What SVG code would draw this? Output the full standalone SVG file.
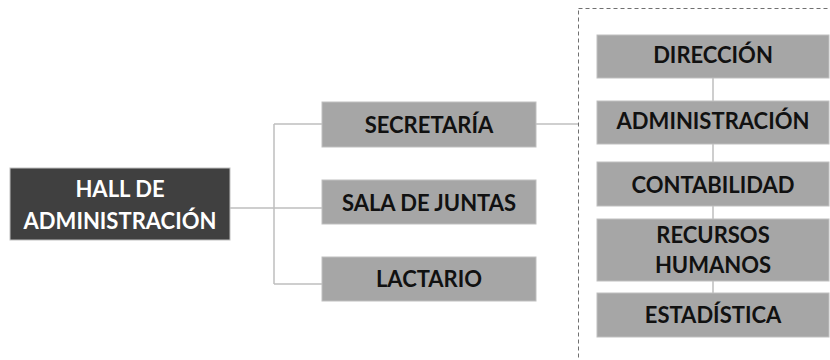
<svg xmlns="http://www.w3.org/2000/svg" width="830" height="360" viewBox="0 0 830 360">
<style>
.box{fill:#a6a6a6;stroke:#bfbfbf;stroke-width:1}
.dark{fill:#404040;stroke:#bfbfbf;stroke-width:1}
.t{font-family:Lato,"Liberation Sans",sans-serif;font-weight:bold;font-size:22px;fill:#111111;text-anchor:middle}
.w{fill:#ffffff}
.ln{stroke:#bfbfbf;stroke-width:1.5;fill:none}
.dash{stroke:#707070;stroke-width:1;fill:none;stroke-dasharray:4 3}
</style>
<rect width="830" height="360" fill="#ffffff"/>
<rect class="dash" x="578.5" y="8.5" width="270" height="370"/>
<g id="connectors">
<path class="ln" d="M230 208H322M274 124V284M274 124H322M274 284H322"/>
<path class="ln" d="M536 124H578"/>
<path class="ln" d="M713 78V101M713 144V162M713 206V219M713 281V293"/>
</g>
<g id="hall">
<rect class="dark" x="10" y="168" width="220" height="72"/>
<text class="t w" x="120" y="197">HALL DE</text>
<text class="t w" x="120" y="229">ADMINISTRACIÓN</text>
</g>
<g id="secretaria">
<rect class="box" x="322" y="102" width="214" height="45"/>
<text class="t" x="429" y="133">SECRETARÍA</text>
</g>
<g id="sala">
<rect class="box" x="322" y="180" width="214" height="44"/>
<text class="t" x="429" y="211">SALA DE JUNTAS</text>
</g>
<g id="lactario">
<rect class="box" x="322" y="257" width="214" height="44"/>
<text class="t" x="429" y="287">LACTARIO</text>
</g>
<g id="direccion">
<rect class="box" x="597" y="35" width="232" height="43"/>
<text class="t" x="713" y="63">DIRECCIÓN</text>
</g>
<g id="administracion">
<rect class="box" x="597" y="101" width="232" height="43"/>
<text class="t" x="713" y="129">ADMINISTRACIÓN</text>
</g>
<g id="contabilidad">
<rect class="box" x="597" y="162" width="232" height="44"/>
<text class="t" x="713" y="193">CONTABILIDAD</text>
</g>
<g id="recursos">
<rect class="box" x="597" y="219" width="232" height="62"/>
<text class="t" x="713" y="243">RECURSOS</text>
<text class="t" x="713" y="273">HUMANOS</text>
</g>
<g id="estadistica">
<rect class="box" x="597" y="293" width="232" height="44"/>
<text class="t" x="713" y="323">ESTADÍSTICA</text>
</g>
</svg>
